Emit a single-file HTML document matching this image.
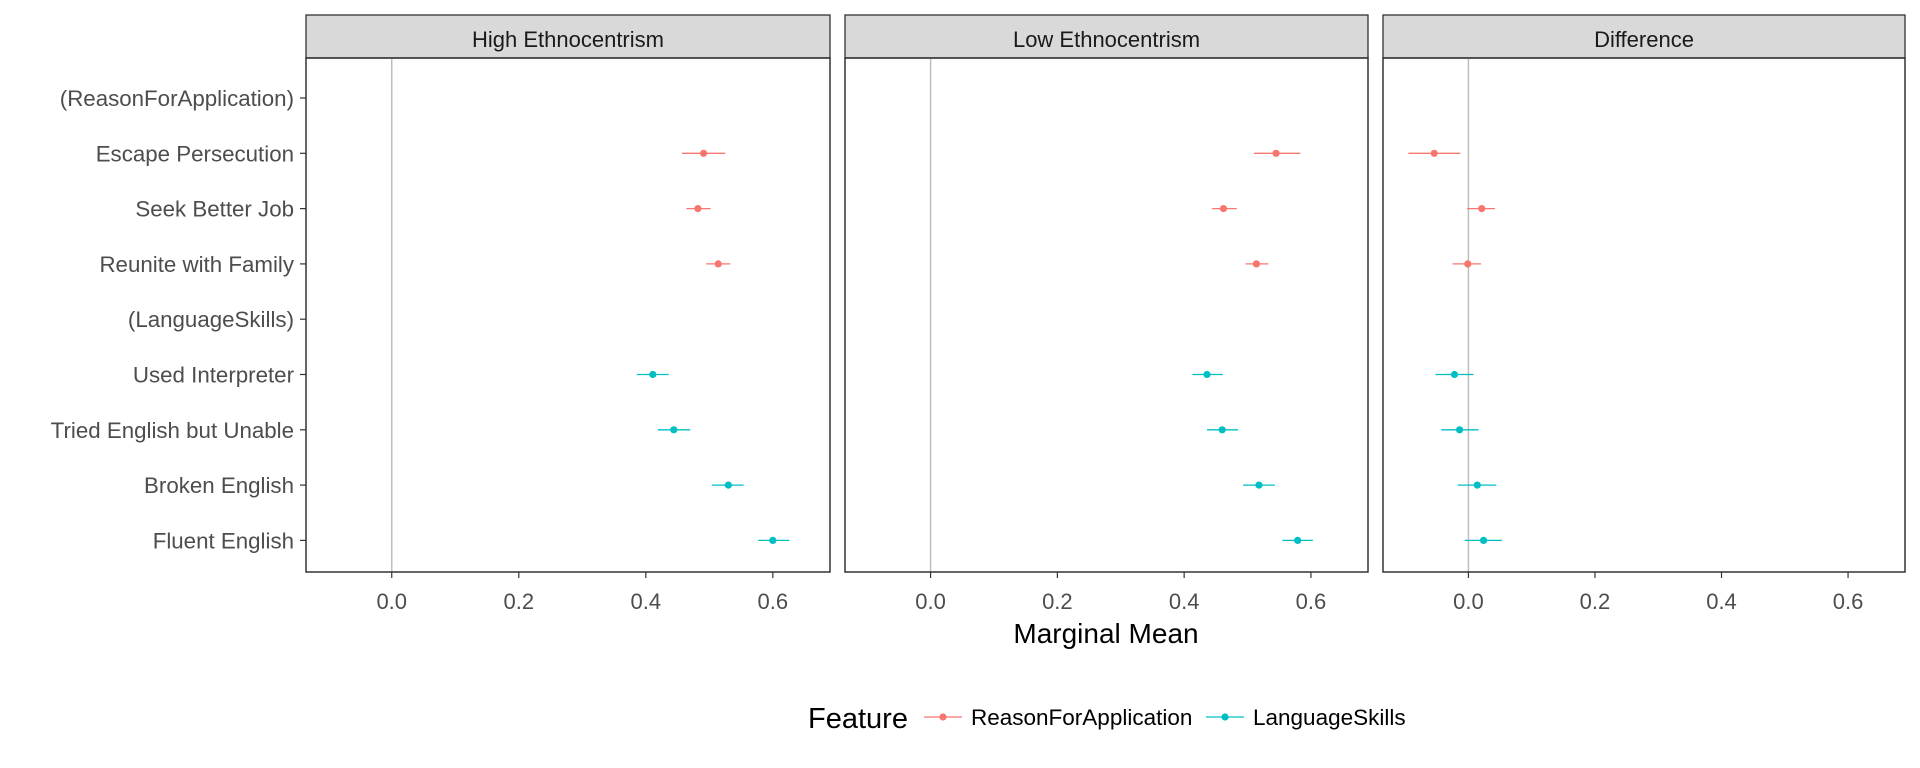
<!DOCTYPE html>
<html><head><meta charset="utf-8"><style>
html,body{margin:0;padding:0;background:#fff;}
svg{display:block;font-family:"Liberation Sans",Arial,sans-serif;}
</style></head><body>
<svg id="chart" width="1920" height="768" viewBox="0 0 1920 768"></svg>
<script>
const categories = ["(ReasonForApplication)","Escape Persecution","Seek Better Job","Reunite with Family","(LanguageSkills)","Used Interpreter","Tried English but Unable","Broken English","Fluent English"];
const featureOf = [null,"R","R","R",null,"L","L","L","L"];
const panelTitles = ["High Ethnocentrism","Low Ethnocentrism","Difference"];
const highEst = [null,0.491,0.482,0.514,null,0.411,0.444,0.530,0.600];
const highLo  = [null,0.457,0.464,0.495,null,0.386,0.419,0.504,0.577];
const highHi  = [null,0.525,0.502,0.533,null,0.436,0.470,0.554,0.626];
const lowEst = [null,0.545,0.462,0.514,null,0.436,0.460,0.518,0.579];
const lowLo  = [null,0.510,0.444,0.497,null,0.413,0.436,0.493,0.555];
const lowHi  = [null,0.583,0.483,0.533,null,0.461,0.485,0.543,0.603];
const diffEst = [null,-0.054,0.021,-0.001,null,-0.022,-0.014,0.014,0.024];
const diffLo  = [null,-0.095,-0.002,-0.025,null,-0.052,-0.043,-0.017,-0.006];
const diffHi  = [null,-0.013,0.042,0.020,null,0.008,0.016,0.044,0.053];
const xTicks = [0.0,0.2,0.4,0.6];
const xTickLabels = ["0.0","0.2","0.4","0.6"];
const legendLabels = ["ReasonForApplication","LanguageSkills"];

const NS="http://www.w3.org/2000/svg";
const svg=document.getElementById('chart');
function mk(tag,attrs,parent){const e=document.createElementNS(NS,tag);for(const k in attrs)e.setAttribute(k,attrs[k]);(parent||svg).appendChild(e);return e;}
const colors={R:"#F8766D",L:"#00BFC4"};
const panelX=[[306,830],[845,1368],[1383,1905]];
const topY=15, stripBot=58, botY=572;
const xmin=-0.135, xmax=0.69;
function yScale(i){return 98+i*55.3;}
function xScale(p,v){const [a,b]=panelX[p];return a+(v-xmin)/(xmax-xmin)*(b-a);}
const series=[[highEst,highLo,highHi],[lowEst,lowLo,lowHi],[diffEst,diffLo,diffHi]];

categories.forEach((c,i)=>{
  const t=mk('text',{x:294,y:yScale(i)+8,'text-anchor':'end','font-size':22.3,fill:'#4d4d4d'});
  
  
  t.textContent=c;
  const tk=mk('line',{x1:300,x2:306,y1:yScale(i),y2:yScale(i),stroke:'#333','stroke-width':1.2});
  
  
});

for(let p=0;p<3;p++){
  const [a,b]=panelX[p];
  const g=mk('g',{});
  
  
  const strip=mk('rect',{x:a,y:topY,width:b-a,height:stripBot-topY,fill:'#d9d9d9',stroke:'#333','stroke-width':1.3},g);
  
  
  const st=mk('text',{x:(a+b)/2,y:47,'text-anchor':'middle','font-size':22,fill:'#1a1a1a'},g);
  
  
  st.textContent=panelTitles[p];
  const z=mk('line',{x1:xScale(p,0),x2:xScale(p,0),y1:stripBot,y2:botY,stroke:'#bebebe','stroke-width':1.5},g);
  
  
  const [est,lo,hi]=series[p];
  for(let i=0;i<categories.length;i++){
    if(est[i]==null) continue;
    const col=colors[featureOf[i]];
    const l=mk('line',{x1:xScale(p,lo[i]),x2:xScale(p,hi[i]),y1:yScale(i),y2:yScale(i),stroke:col,'stroke-width':1.3},g);
    
    
    const c=mk('circle',{cx:xScale(p,est[i]),cy:yScale(i),r:3.6,fill:col},g);
    
    
  }
  const box=mk('rect',{x:a,y:stripBot,width:b-a,height:botY-stripBot,fill:'none',stroke:'#333','stroke-width':1.5},g);
  
  
  xTicks.forEach((v,k)=>{
    const x=xScale(p,v);
    const tk=mk('line',{x1:x,x2:x,y1:botY,y2:botY+6,stroke:'#333','stroke-width':1.2},g);
    
    
    const t=mk('text',{x:x,y:609,'text-anchor':'middle','font-size':22,fill:'#4d4d4d'},g);
    
    
    t.textContent=xTickLabels[k];
  });
}
const xt=mk('text',{x:1106,y:643,'text-anchor':'middle','font-size':28,fill:'#000'});


xt.textContent="Marginal Mean";

const lg=mk('g',{});


const lt=mk('text',{x:808,y:728,'font-size':29,fill:'#000'},lg);


lt.textContent="Feature";
const entryX=[924,1206];
legendLabels.forEach((lab,k)=>{
  const col=k===0?colors.R:colors.L;
  const x=entryX[k];
  const e=mk('g',{},lg);
  
  
  mk('line',{x1:x,x2:x+38,y1:717,y2:717,stroke:col,'stroke-width':1.3},e);
  mk('circle',{cx:x+19,cy:717,r:3.6,fill:col},e);
  const t=mk('text',{x:x+47,y:725,'font-size':22.5,fill:'#000'},e);
  
  
  t.textContent=lab;
});
</script>
</body></html>
